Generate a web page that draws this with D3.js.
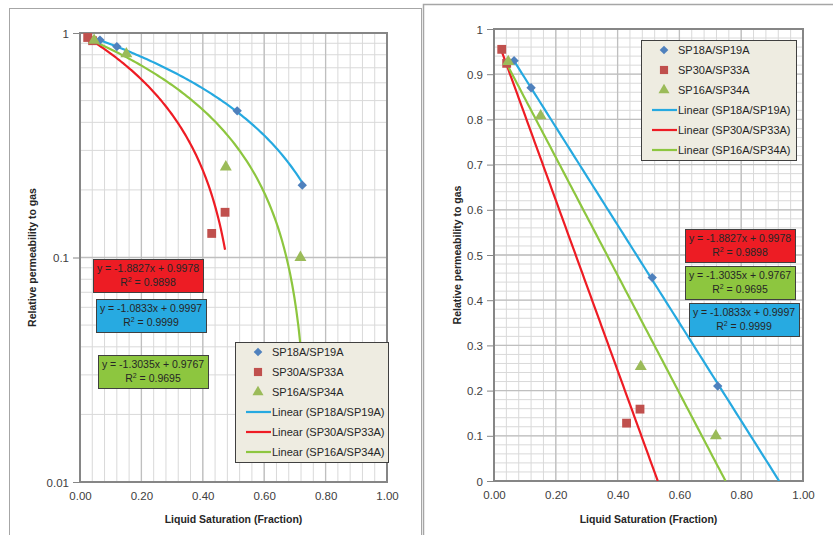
<!DOCTYPE html>
<html>
<head>
<meta charset="utf-8">
<script src="https://d3js.org/d3.v7.min.js"></script>
<style>
  body { margin: 0; background: #fff; }
  text { font-family: "Liberation Sans", Arial, sans-serif; }
</style>
</head>
<body>
<script>
// measured points (liquid saturation, relative permeability to gas)
var blueX = [0.065, 0.12, 0.512, 0.724];
var blueY = [0.93, 0.87, 0.45, 0.21];
var redX = [0.025, 0.041, 0.429, 0.4725];
var redY = [0.955, 0.924, 0.128, 0.159];
var greenX = [0.046, 0.151, 0.475, 0.718];
var greenY = [0.928, 0.808, 0.253, 0.10];

// trendline coefficients from the chart labels
var slopes = [-1.0833, -1.8827, -1.3035];
var intercepts = [0.9997, 0.9978, 0.9767];
var r2 = ["0.9999", "0.9898", "0.9695"];

var seriesNames = ["SP18A/SP19A", "SP30A/SP33A", "SP16A/SP34A"];
var xTicks = [0, 0.2, 0.4, 0.6, 0.8, 1.0];
var logTicks = [0.01, 0.1, 1];
var linTicks = [0, 0.1, 0.2, 0.3, 0.4, 0.5, 0.6, 0.7, 0.8, 0.9, 1];

var markerCol = ["#4f81bd", "#c0504d", "#9bbb59"];
var lineCol = ["#26a9e0", "#ee1c24", "#8dc63f"];
var boxCol = ["#27aae1", "#ed1c24", "#8dc63f"];
var allX = [blueX, redX, greenX];
var allY = [blueY, redY, greenY];

// excel style markers: diamond is a square turned 45deg
function marker(g, i, cx, cy, scale) {
  var p;
  if (i == 0) {
    p = g.append("path").attr("d", d3.symbol().type(d3.symbolSquare).size(44 * scale)())
      .attr("transform", "translate(" + cx + "," + cy + ") rotate(45)");
  } else if (i == 1) {
    p = g.append("path").attr("d", d3.symbol().type(d3.symbolSquare).size(78 * scale)())
      .attr("transform", "translate(" + cx + "," + cy + ")");
  } else {
    p = g.append("path").attr("d", d3.symbol().type(d3.symbolTriangle).size(62 * scale)())
      .attr("transform", "translate(" + cx + "," + cy + ")");
  }
  p.attr("fill", markerCol[i]);
}

var svg = d3.select("body").append("svg")
  .attr("width", 833).attr("height", 535);

// panel frames
svg.append("rect").attr("x", 9.5).attr("y", 8.5).attr("width", 412).attr("height", 540)
  .attr("fill", "none").attr("stroke", "#a6a6a6");
svg.append("rect").attr("x", 423.5).attr("y", 4.5).attr("width", 420).attr("height", 540)
  .attr("fill", "none").attr("stroke", "#a6a6a6").attr("stroke-width", 1.5);

function drawPanel(opt) {
  var g = svg.append("g");
  var x = opt.x, y = opt.y;
  var x0 = x.range()[0], x1 = x.range()[1];
  var yb = y.range()[0], yt = y.range()[1];

  // minor grid
  d3.range(0, 1.0001, 0.04).forEach(function(v) {
    g.append("line").attr("x1", x(v)).attr("x2", x(v)).attr("y1", yb).attr("y2", yt)
      .attr("stroke", "#d9d9d9").attr("stroke-width", 1);
  });
  opt.minorY.forEach(function(v) {
    g.append("line").attr("x1", x0).attr("x2", x1).attr("y1", y(v)).attr("y2", y(v))
      .attr("stroke", "#d9d9d9").attr("stroke-width", 1);
  });
  // major grid
  xTicks.forEach(function(v) {
    g.append("line").attr("x1", x(v)).attr("x2", x(v)).attr("y1", yb).attr("y2", yt)
      .attr("stroke", "#bfbfbf").attr("stroke-width", 1.3);
  });
  opt.majorY.forEach(function(v) {
    g.append("line").attr("x1", x0).attr("x2", x1).attr("y1", y(v)).attr("y2", y(v))
      .attr("stroke", "#bfbfbf").attr("stroke-width", 1.3);
  });

  // axes
  var ax = g.append("g").attr("transform", "translate(0," + yb + ")")
    .call(d3.axisBottom(x).tickValues(xTicks).tickSize(0).tickPadding(10).tickFormat(d3.format(".2f")));
  var ay = g.append("g").attr("transform", "translate(" + x0 + ",0)")
    .call(d3.axisLeft(y).tickValues(opt.majorY).tickSize(7).tickPadding(4).tickFormat(opt.fmt));
  [ax, ay].forEach(function(a) {
    a.select(".domain").remove();
    a.selectAll("line").attr("stroke", "#868686");
    a.selectAll("text").attr("fill", "#404040").style("font-size", "11.5px");
  });
  ay.selectAll("text").attr("dy", "0.35em");

  // plot border
  g.append("rect").attr("x", x0).attr("y", yt).attr("width", x1 - x0).attr("height", yb - yt)
    .attr("fill", "none").attr("stroke", "#868686").attr("stroke-width", 2);

  // trendlines
  var clipId = "clip" + opt.id;
  svg.append("clipPath").attr("id", clipId).append("rect")
    .attr("x", x0).attr("y", yt).attr("width", x1 - x0).attr("height", yb - yt);
  var line = d3.line().x(function(d) { return x(d[0]); }).y(function(d) { return y(d[1]); });
  [0, 1, 2].forEach(function(i) {
    var a = slopes[i], b = intercepts[i];
    var xs = d3.min(allX[i]);
    var xe = opt.extend ? -b / a : d3.max(allX[i]);
    var pts = d3.range(0, 101).map(function(k) {
      var xv = xs + (xe - xs) * k / 100;
      return [xv, a * xv + b];
    });
    g.append("path").attr("d", line(pts)).attr("fill", "none")
      .attr("stroke", lineCol[i]).attr("stroke-width", 2.2)
      .attr("clip-path", "url(#" + clipId + ")");
  });

  // markers
  [0, 1, 2].forEach(function(i) {
    allX[i].forEach(function(xv, k) {
      marker(g, i, x(xv), y(allY[i][k]), 1);
    });
  });

  // equation boxes
  opt.boxes.forEach(function(bx) {
    var i = bx.s;
    g.append("rect").attr("x", bx.x + 0.5).attr("y", bx.y + 0.5).attr("width", 110).attr("height", 33)
      .attr("fill", boxCol[i]).attr("stroke", "#404040").attr("stroke-width", 1);
    var eq = "y = " + slopes[i].toFixed(4) + "x + " + intercepts[i].toFixed(4);
    g.append("text").attr("x", bx.x + 55).attr("y", bx.y + 13).attr("text-anchor", "middle")
      .attr("fill", "#262626").style("font-size", "10.5px").text(eq);
    var t = g.append("text").attr("x", bx.x + 55).attr("y", bx.y + 27).attr("text-anchor", "middle")
      .attr("fill", "#262626").style("font-size", "10.5px");
    t.append("tspan").text("R");
    t.append("tspan").attr("dy", -4).style("font-size", "7px").text("2");
    t.append("tspan").attr("dy", 4).text(" = " + r2[i]);
  });

  // legend
  var lg = opt.legend;
  g.append("rect").attr("x", lg.x + 0.5).attr("y", lg.y + 0.5).attr("width", lg.w).attr("height", 120)
    .attr("fill", "#eeece1").attr("stroke", "#404040").attr("stroke-width", 1);
  var labels = seriesNames.concat(seriesNames.map(function(n) { return "Linear (" + n + ")"; }));
  labels.forEach(function(lab, k) {
    var ry = lg.y + 10 + k * 20;
    if (k < 3) {
      marker(g, k, lg.x + 23, ry, 0.85);
    } else {
      g.append("line").attr("x1", lg.x + 11).attr("x2", lg.x + 36).attr("y1", ry).attr("y2", ry)
        .attr("stroke", lineCol[k - 3]).attr("stroke-width", 2.2);
    }
    g.append("text").attr("x", lg.x + 37).attr("y", ry).attr("dy", "0.35em")
      .attr("fill", "#262626").style("font-size", "11px").text(lab);
  });

  // axis titles
  g.append("text").attr("x", (x0 + x1) / 2).attr("y", 523).attr("text-anchor", "middle")
    .attr("fill", "#262626").style("font-size", "10.5px").style("font-weight", "bold")
    .text("Liquid Saturation (Fraction)");
  g.append("text").attr("transform", "translate(" + opt.ylabX + "," + (yt + yb) / 2 + ") rotate(-90)")
    .attr("text-anchor", "middle")
    .attr("fill", "#262626").style("font-size", "10.5px").style("font-weight", "bold")
    .text("Relative permeability to gas");
}

// left panel: log scale
var minorLog = [];
[0.01, 0.1].forEach(function(d) {
  for (var m = 2; m <= 9; m++) minorLog.push(d * m);
});
drawPanel({
  id: "L",
  x: d3.scaleLinear().domain([0, 1]).range([80, 387]),
  y: d3.scaleLog().domain([0.01, 1]).range([482, 33]),
  majorY: logTicks,
  minorY: minorLog,
  fmt: function(d) { return d == 1 ? "1" : d == 0.1 ? "0.1" : "0.01"; },
  extend: false,
  boxes: [{ s: 1, x: 93, y: 259 }, { s: 0, x: 96, y: 299 }, { s: 2, x: 98, y: 355 }],
  legend: { x: 235, y: 342, w: 153 },
  ylabX: 36
});

// right panel: linear scale
drawPanel({
  id: "R",
  x: d3.scaleLinear().domain([0, 1]).range([494, 803]),
  y: d3.scaleLinear().domain([0, 1]).range([481, 29]),
  majorY: linTicks,
  minorY: d3.range(0, 1.0001, 0.02),
  fmt: function(d) { return d3.format("~g")(d); },
  extend: true,
  boxes: [{ s: 1, x: 685, y: 229 }, { s: 2, x: 685, y: 266 }, { s: 0, x: 689, y: 303 }],
  legend: { x: 641, y: 40, w: 155 },
  ylabX: 461
});
</script>
</body>
</html>
